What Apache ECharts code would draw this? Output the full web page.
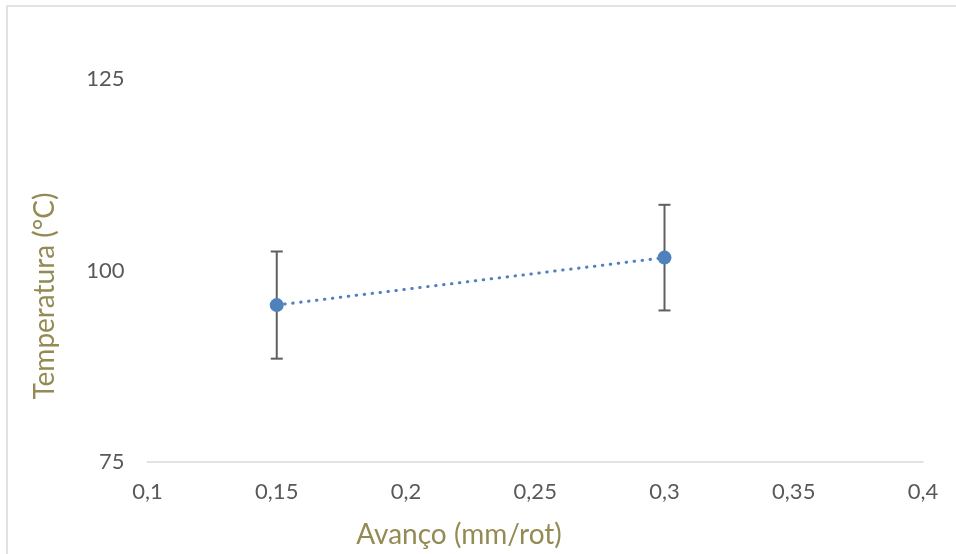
<!DOCTYPE html>
<html>
<head>
<meta charset="utf-8">
<script src="https://cdn.jsdelivr.net/npm/echarts@6/dist/echarts.min.js"></script>
<style>
  html, body { margin: 0; padding: 0; background: #fff; }
  #chart { width: 956px; height: 554px; }
</style>
</head>
<body>
<div id="chart"></div>
<script>
// Feed rate (mm/rev) vs. measured temperature with standard deviation
const feedRates = [0.15, 0.3];
const temperatures = [95.5, 101.7];
const deviations = [7.0, 6.9];
const yTicks = [75, 100, 125];
const xTitle = 'Avanço (mm/rot)';
const yTitle = 'Temperatura (°C)';

const chart = echarts.init(document.getElementById('chart'));
const FONT = 'Lato, "Open Sans", sans-serif';
const TITLE_COLOR = '#948a54';

const points = feedRates.map((x, i) => [x, temperatures[i]]);
const bars = feedRates.map((x, i) => [x, temperatures[i] - deviations[i], temperatures[i] + deviations[i]]);

chart.setOption({
  backgroundColor: '#ffffff',
  animation: false,
  graphic: [
    {
      type: 'rect',
      shape: { x: 7, y: 6, width: 1000, height: 600 },
      style: { fill: 'none', stroke: '#d9d9d9', lineWidth: 1.5 },
      silent: true
    },
    {
      type: 'text',
      x: 459, y: 535,
      style: { text: xTitle, fill: TITLE_COLOR, font: '28px ' + FONT, align: 'center', verticalAlign: 'middle' },
      silent: true
    },
    {
      type: 'text',
      x: 45, y: 296,
      rotation: Math.PI / 2,
      style: { text: yTitle, fill: TITLE_COLOR, font: '28px ' + FONT, align: 'center', verticalAlign: 'middle' },
      silent: true
    }
  ],
  grid: { left: 147.5, right: 33, top: 41, bottom: 92 },
  xAxis: {
    type: 'value',
    min: 0.1, max: 0.4, interval: 0.05,
    axisLine: { show: true, lineStyle: { color: '#d9d9d9', width: 1.5 } },
    axisTick: { show: false },
    splitLine: { show: false },
    axisLabel: {
      color: '#595959', fontSize: 22, fontFamily: FONT, margin: 19,
      formatter: v => String(Math.round(v * 100) / 100).replace('.', ',')
    }
  },
  yAxis: {
    type: 'value',
    min: 75, max: 130, interval: 25,
    axisLine: { show: false },
    axisTick: { show: false },
    splitLine: { show: false },
    axisLabel: {
      color: '#595959', fontSize: 22, fontFamily: FONT, margin: 23,
      showMaxLabel: false,
      formatter: v => (yTicks.indexOf(v) >= 0 ? String(v) : '')
    }
  },
  series: [
    {
      type: 'custom',
      data: bars,
      z: 2,
      renderItem: (params, api) => {
        const x = api.value(0);
        const lo = api.coord([x, api.value(1)]);
        const hi = api.coord([x, api.value(2)]);
        const cap = 6;
        const style = { stroke: '#5f5f5f', lineWidth: 2, fill: 'none' };
        return {
          type: 'group',
          children: [
            { type: 'line', shape: { x1: lo[0], y1: lo[1], x2: hi[0], y2: hi[1] }, style },
            { type: 'line', shape: { x1: lo[0] - cap, y1: lo[1], x2: lo[0] + cap, y2: lo[1] }, style },
            { type: 'line', shape: { x1: hi[0] - cap, y1: hi[1], x2: hi[0] + cap, y2: hi[1] }, style }
          ]
        };
      }
    },
    {
      type: 'line',
      data: points,
      z: 3,
      symbol: 'circle',
      symbolSize: 14,
      itemStyle: { color: '#4f81bd' },
      lineStyle: { color: '#4f81bd', width: 3, type: [0.5, 7.5], cap: 'round' }
    }
  ]
});
</script>
</body>
</html>
